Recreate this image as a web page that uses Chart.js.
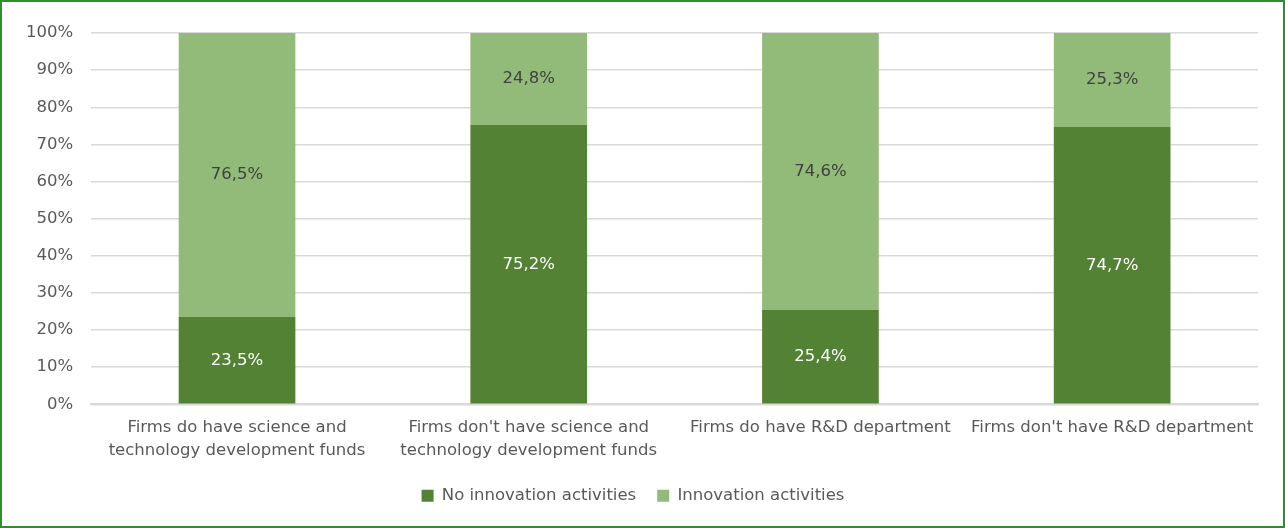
<!DOCTYPE html>
<html>
<head>
<meta charset="utf-8">
<script src="https://cdn.jsdelivr.net/npm/chart.js@4/dist/chart.umd.min.js"></script>
<style>
  html, body { margin: 0; padding: 0; background: #fff; }
  #wrap { width: 1285px; height: 528px; box-sizing: border-box; border: 2px solid #2f8f2f; position: relative; }
  canvas { display: block; }
</style>
</head>
<body>
<div id="wrap"><canvas id="chart"></canvas></div>
<script>
// chart data
const categories = [
  ["Firms do have science and", "technology development funds"],
  ["Firms don't have science and", "technology development funds"],
  "Firms do have R&D department",
  "Firms don't have R&D department"
];
const noInnovation = [23.5, 75.2, 25.4, 74.7];
const innovation = [76.5, 24.8, 74.6, 25.3];
const yTicks = [0, 10, 20, 30, 40, 50, 60, 70, 80, 90, 100];
const labelColors = ["#ffffff", "#404040"];

const FONT = "'DejaVu Sans', Tahoma, sans-serif";
const FS = 16.5;

// labels in middle of each segment
const segLabels = {
  id: "segLabels",
  afterDatasetsDraw(chart) {
    const ctx = chart.ctx;
    ctx.save();
    ctx.font = FS + "px " + FONT;
    ctx.textAlign = "center";
    ctx.textBaseline = "middle";
    chart.data.datasets.forEach((ds, i) => {
      ctx.fillStyle = labelColors[i];
      const meta = chart.getDatasetMeta(i);
      meta.data.forEach((bar, j) => {
        const y = (bar.y + bar.base) / 2;
        ctx.fillText(ds.data[j].toFixed(1).replace(".", ",") + "%", bar.x, y);
      });
    });
    ctx.restore();
  }
};

const ctx = document.getElementById("chart").getContext("2d");
new Chart(ctx, {
  type: "bar",
  data: {
    labels: categories,
    datasets: [
      { label: "No innovation activities", data: noInnovation, backgroundColor: "#548235" },
      { label: "Innovation activities", data: innovation, backgroundColor: "#92bb79" }
    ]
  },
  options: {
    responsive: true,
    maintainAspectRatio: false,
    animation: false,
    layout: { padding: { left: 6, right: 25, top: 31, bottom: 12 } },
    datasets: { bar: { barPercentage: 0.4, categoryPercentage: 1.0 } },
    scales: {
      x: {
        stacked: true,
        grid: { display: false },
        border: { color: "#d9d9d9", width: 2 },
        ticks: { color: "#595959", font: { family: FONT, size: FS, lineHeight: 1.4 }, maxRotation: 0, padding: 4 }
      },
      y: {
        stacked: true,
        min: 0, max: 100,
        afterBuildTicks: (axis) => { axis.ticks = yTicks.map(v => ({ value: v })); },
        grid: { color: "#d9d9d9", lineWidth: 1.5, drawTicks: false },
        border: { display: false },
        ticks: { color: "#595959", font: { family: FONT, size: FS }, padding: 18, callback: v => v + "%" }
      }
    },
    plugins: {
      legend: {
        position: "bottom",
        labels: { color: "#595959", font: { family: FONT, size: FS }, boxWidth: 12, boxHeight: 12, padding: 21 }
      },
      tooltip: { enabled: false }
    }
  },
  plugins: [segLabels]
});
</script>
</body>
</html>
